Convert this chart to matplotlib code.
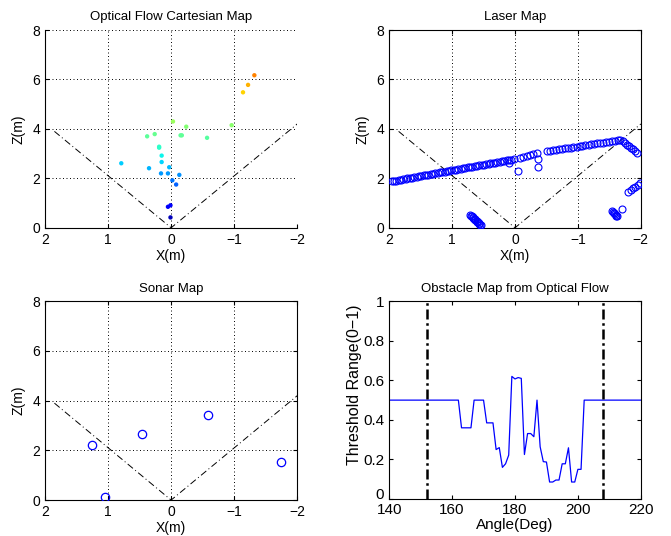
import numpy as np
import matplotlib
matplotlib.use("Agg")
import matplotlib.pyplot as plt
from matplotlib.transforms import ScaledTranslation

plt.rcParams['font.family'] = ['Liberation Sans', 'DejaVu Sans']
plt.rcParams['axes.unicode_minus'] = True

# optical flow points (x, z)
of_x = [-1.32, -1.22, -1.14, -0.03, -0.24, -0.96, 0.38, 0.26, -0.15, -0.17, -0.57,
        0.19, 0.19, 0.15, 0.15, 0.79, 0.35, 0.03, 0.16, 0.05, -0.13, -0.02, -0.08,
        0.05, 0.01, 0.01]
of_z = [6.17, 5.78, 5.48, 4.30, 4.09, 4.15, 3.70, 3.79, 3.74, 3.74, 3.64,
        3.28, 3.24, 2.92, 2.66, 2.61, 2.41, 2.45, 2.20, 2.20, 2.14, 1.92, 1.75,
        0.85, 0.91, 0.42]

# laser scan points
laser_x = [1.96, 1.92, 1.89, 1.85, 1.82, 1.78, 1.74, 1.71, 1.67, 1.63, 1.60, 1.56,
           1.52, 1.49, 1.45, 1.41, 1.38, 1.34, 1.30, 1.27, 1.23, 1.19, 1.16, 1.12,
           1.08, 1.05, 1.01, 0.97, 0.94, 0.90, 0.86, 0.83, 0.79, 0.75, 0.72, 0.68,
           0.64, 0.61, 0.57, 0.53, 0.50, 0.46, 0.42, 0.39, 0.35, 0.31, 0.28, 0.24,
           0.20, 0.17, 0.13, 0.09, 0.06, 0.02,
           0.10, -0.04, -0.08, -0.13, -0.19, -0.24, -0.29, -0.35, -0.37, -0.36,
           -0.51, -0.56, -0.61, -0.65, -0.70, -0.75, -0.79, -0.84, -0.89, -0.93,
           -0.98, -1.03, -1.07, -1.12, -1.17, -1.21, -1.26, -1.31, -1.35, -1.40,
           -1.45, -1.49, -1.54, -1.59, -1.63, -1.67,
           -1.71, -1.75, -1.78, -1.81, -1.84, -1.87, -1.91, -1.94,
           -1.80, -1.84, -1.87, -1.91, -1.95, -1.99,
           -1.55, -1.56, -1.57, -1.58, -1.59, -1.60, -1.61, -1.62, -1.70,
           0.71, 0.70, 0.69, 0.67, 0.66, 0.65, 0.64, 0.63, 0.61, 0.60, 0.59, 0.58,
           0.57, 0.55, 0.54]
laser_z = [1.88, 1.90, 1.91, 1.93, 1.94, 1.96, 1.98, 2.00, 2.01, 2.03, 2.05, 2.07,
           2.08, 2.10, 2.12, 2.14, 2.15, 2.17, 2.19, 2.20, 2.22, 2.24, 2.25, 2.27,
           2.29, 2.30, 2.32, 2.34, 2.35, 2.37, 2.39, 2.40, 2.42, 2.44, 2.46, 2.47,
           2.49, 2.51, 2.52, 2.54, 2.56, 2.58, 2.59, 2.61, 2.63, 2.64, 2.66, 2.68,
           2.70, 2.71, 2.73, 2.75, 2.76, 2.78,
           2.62, 2.31, 2.82, 2.88, 2.92, 2.93, 3.00, 3.03, 2.80, 2.45,
           3.09, 3.11, 3.13, 3.15, 3.17, 3.19, 3.21, 3.22, 3.24, 3.26,
           3.28, 3.30, 3.32, 3.34, 3.36, 3.38, 3.39, 3.41, 3.43, 3.45,
           3.47, 3.49, 3.51, 3.52, 3.54, 3.56,
           3.50, 3.43, 3.36, 3.29, 3.23, 3.17, 3.10, 3.04,
           1.46, 1.53, 1.60, 1.67, 1.74, 1.81,
           0.67, 0.64, 0.61, 0.58, 0.55, 0.52, 0.49, 0.46, 0.77,
           0.52, 0.49, 0.46, 0.43, 0.40, 0.37, 0.34, 0.31, 0.28, 0.25, 0.22, 0.19,
           0.16, 0.13, 0.10]

# sonar returns
sonar_x = [1.25, 1.05, 0.46, -0.59, -1.74]
sonar_z = [2.22, 0.12, 2.66, 3.43, 1.53]

# field of view boundary
fov_x = [1.85, 0.0, -2.0]
fov_z = [3.9, 0.0, 4.2]

# obstacle map from optical flow
angles = [140, 162, 163, 166, 167, 170, 171, 173, 174, 175, 176, 177, 178, 179, 180,
          181, 182, 183, 184, 185, 186, 187, 188, 189, 190, 191, 192, 193, 194, 195,
          196, 197, 198, 199, 200, 201, 202, 220]
thresh = [0.50, 0.50, 0.36, 0.36, 0.50, 0.50, 0.385, 0.385, 0.25, 0.26, 0.16, 0.178,
          0.222, 0.62, 0.607, 0.614, 0.61, 0.225, 0.331, 0.331, 0.315, 0.50, 0.264,
          0.189, 0.187, 0.086, 0.086, 0.096, 0.096, 0.178, 0.178, 0.259, 0.086, 0.086,
          0.15, 0.15, 0.50, 0.50]
fov_angles = [152, 208]

grid_ls = (0, (1, 2.6))
fov_ls = (0, (7, 3, 1, 3))
fs_tick = 10
fs_lab = 9.5


def map_axes(ax, title, box=True):
    ax.plot(fov_x, fov_z, color='k', linestyle=fov_ls, linewidth=0.7, zorder=1)
    ax.set_xlim(2, -2)
    ax.set_ylim(0, 8)
    ax.set_xticks([2, 1, 0, -1, -2])
    ax.set_yticks([0, 2, 4, 6, 8])
    ax.grid(True, color='k', linestyle=grid_ls, linewidth=0.7)
    ax.set_axisbelow(True)
    ax.set_title(title, fontsize=fs_lab, pad=7)
    ax.set_xlabel('X(m)', fontsize=fs_lab + 0.5, labelpad=1.5)
    ax.set_ylabel('Z(m)', fontsize=fs_lab + 0.5, labelpad=5)
    ax.tick_params(direction='in', length=3, labelsize=fs_tick, pad=3.5,
                   top=box, right=box)
    if not box:
        ax.spines['top'].set_visible(False)
        ax.spines['right'].set_visible(False)


fig = plt.figure(figsize=(6.71, 5.36), dpi=100)

ax1 = fig.add_axes([0.067, 0.575, 0.376, 0.369])
ax1.scatter(of_x, of_z, c=of_z, cmap='jet', vmin=0, vmax=8, s=10,
            edgecolors='none', zorder=3)
map_axes(ax1, 'Optical Flow Cartesian Map', box=False)

ax2 = fig.add_axes([0.580, 0.575, 0.375, 0.369])
ax2.plot(laser_x, laser_z, 'o', markerfacecolor='none', markeredgecolor='b',
         markersize=5, markeredgewidth=0.8, zorder=3)
map_axes(ax2, 'Laser Map')

ax3 = fig.add_axes([0.067, 0.067, 0.376, 0.371])
ax3.plot(sonar_x, sonar_z, 'o', markerfacecolor='none', markeredgecolor='b',
         markersize=6, markeredgewidth=0.9, zorder=3)
map_axes(ax3, 'Sonar Map')

ax4 = fig.add_axes([0.580, 0.069, 0.375, 0.369])
ax4.plot(angles, thresh, color='b', linewidth=0.9)
for a in fov_angles:
    ax4.plot([a, a], [0, 1], color='k', linestyle=(0, (4, 1.5, 1, 1.5)), linewidth=1.8)
ax4.set_xlim(140, 220)
ax4.set_ylim(0, 1)
ax4.set_xticks([140, 160, 180, 200, 220])
ax4.set_yticks([0, 0.2, 0.4, 0.6, 0.8, 1])
ax4.set_yticklabels(['0', '0.2', '0.4', '0.6', '0.8', '1'])
ax4.set_title('Obstacle Map from Optical Flow', fontsize=fs_lab, pad=7)
ax4.set_xlabel('Angle(Deg)', fontsize=11, labelpad=0.5)
ax4.set_ylabel('Threshold Range(0\u22121)', fontsize=11.5)
ax4.yaxis.set_label_coords(-0.11, 0.576)
ax4.tick_params(direction='in', length=3, labelsize=fs_tick + 1, pad=3,
                top=True, right=True)
ax4.tick_params(axis='y', pad=3.5)

# lift the "0" on the y axis a little so it clears the "140" below it
lbl0 = ax4.get_yticklabels()[0]
lbl0.set_transform(lbl0.get_transform() + ScaledTranslation(0, 4 / 72, fig.dpi_scale_trans))

fig.savefig('out.png', dpi=100)
